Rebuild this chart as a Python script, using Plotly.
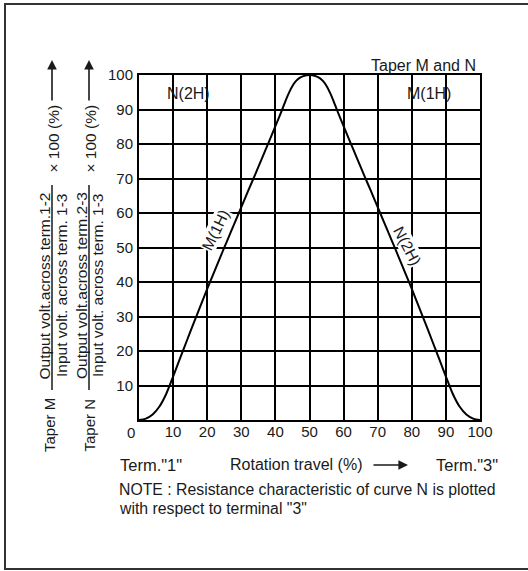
import plotly.graph_objects as go

# ---- data ----
travel_m = [0, 2, 4, 6, 8, 10, 12, 14, 16, 18, 20, 22, 24, 26, 28, 30, 32, 34, 36, 38, 40, 42, 43, 44, 45, 46, 47, 48, 50]
output_m = [0, 0.4, 1.6, 3.9, 7.6, 12.6, 17.8, 22.9, 28, 33, 38, 42.8, 47.6, 52.3, 57, 61.7, 66.4, 71, 75.7,
            80.4, 85.2, 90, 92.6, 94.9, 96.8, 98.2, 99.1, 99.6, 100]
travel_n = [50, 52, 53, 54, 55, 56, 57, 58, 60, 62, 64, 66, 68, 70, 72, 74, 76, 78, 80, 82, 84, 86, 88, 90, 92,
            94, 96, 98, 100]
output_n = [100, 99.6, 99.1, 98.2, 96.8, 94.9, 92.6, 90, 85.2, 80.4, 75.7, 71, 66.4, 61.7, 57, 52.3, 47.6, 42.8,
            38, 33, 28, 22.9, 17.8, 12.6, 7.6, 3.9, 1.6, 0.4, 0]
x_ticks = [10, 20, 30, 40, 50, 60, 70, 80, 90, 100]
y_ticks = [10, 20, 30, 40, 50, 60, 70, 80, 90, 100]

FONT = "Liberation Sans, Arial, sans-serif"
TXT = "#1a1a1a"

W, H = 528, 571
L, R, T, B = 139, 48, 75, 151
PW, PH = W - L - R, H - T - B


def px(xp):
    return (xp - L) / PW


def py(yp):
    return (H - B - yp) / PH


fig = go.Figure()
fig.add_trace(go.Scatter(x=travel_m + travel_n[1:], y=output_m + output_n[1:], mode="lines",
                         line=dict(color="black", width=2, shape="spline", smoothing=0.8),
                         hoverinfo="skip", showlegend=False))

axis_common = dict(range=[0, 100], showgrid=True, gridcolor="black", gridwidth=2,
                   showline=True, linecolor="black", linewidth=2, mirror=True,
                   zeroline=False, ticks="", tickfont=dict(family=FONT, size=15, color=TXT))
fig.update_xaxes(tickvals=x_ticks, ticklabelstandoff=-3, **axis_common)
fig.update_yaxes(tickvals=y_ticks, ticklabelstandoff=1, **axis_common)

ann = []


def text(xp, yp, s, size=15, angle=0, xanchor="center"):
    ann.append(dict(x=px(xp), y=py(yp), xref="paper", yref="paper", text=s, showarrow=False,
                    font=dict(family=FONT, size=size, color=TXT), textangle=angle,
                    xanchor=xanchor, yanchor="middle"))


def arrow(xh, yh, dx, dy):
    ann.append(dict(x=px(xh), y=py(yh), xref="paper", yref="paper", ax=dx, ay=dy,
                    axref="pixel", ayref="pixel", text="", showarrow=True, arrowhead=2,
                    arrowsize=1.2, arrowwidth=1.6, arrowcolor=TXT))


# origin label
ann.append(dict(x=0, y=0, xref="x", yref="y", text="0", showarrow=False, xshift=-8, yshift=-12,
                font=dict(family=FONT, size=15, color=TXT), xanchor="center", yanchor="middle"))

# labels in the plot
ann.append(dict(x=14.4, y=94.6, xref="x", yref="y", text="N(2H)", showarrow=False,
                font=dict(family=FONT, size=16, color=TXT)))
ann.append(dict(x=85, y=94.6, xref="x", yref="y", text="M(1H)", showarrow=False,
                font=dict(family=FONT, size=16, color=TXT)))
ann.append(dict(x=22.3, y=55, xref="x", yref="y", text="M(1H)", showarrow=False, textangle=-64,
                bgcolor="white", borderpad=0, font=dict(family=FONT, size=15.5, color=TXT)))
ann.append(dict(x=78.6, y=50.6, xref="x", yref="y", text="N(2H)", showarrow=False, textangle=62,
                bgcolor="white", borderpad=0, font=dict(family=FONT, size=15.5, color=TXT)))

text(478, 65, "Taper M and N", size=16, xanchor="right")

# bottom texts
text(118, 465, "Term.\"1\"", size=16.5, xanchor="left")
text(228, 465, "Rotation travel (%)", size=16, xanchor="left")
text(500, 465, "Term.\"3\"", size=16.5, xanchor="right")
text(117, 489, "NOTE : Resistance characteristic of curve N is plotted", size=15.8, xanchor="left")
text(117, 508, "with respect to terminal \"3\"", size=15.8, xanchor="left")

# horizontal arrow
arrow(408, 465, -36, 0)

# y-axis label columns
cols = [
    dict(num="Output volt.across term.1-2", den="Input volt. across term. 1-3", taper="Taper M",
         xn=43.5, xb=52, xd=61, xt=49),
    dict(num="Output volt.across term.2-3", den="Input volt. across term. 1-3", taper="Taper N",
         xn=81, xb=89, xd=97, xt=88.5),
]
shapes = []
for c in cols:
    text(c["xn"], 286, c["num"], size=15.5, angle=-90)
    text(c["xd"], 285, c["den"], size=15.5, angle=-90)
    text(c["xt"], 425, c["taper"], size=15, angle=-90)
    text(c["xb"] + 0.5, 139, "× 100 (%)", size=15.5, angle=-90)
    shapes.append(dict(type="line", xref="paper", yref="paper", x0=px(c["xb"]), x1=px(c["xb"]),
                       y0=py(390), y1=py(185), line=dict(color=TXT, width=1.5)))
    arrow(c["xb"], 60, 0, 42)

# outer frame
shapes.append(dict(type="rect", xref="paper", yref="paper", x0=px(5), x1=px(540), y0=py(569), y1=py(4),
                   line=dict(color="#333333", width=2), layer="below"))

fig.update_layout(width=W, height=H, margin=dict(l=L, r=R, t=T, b=B),
                  paper_bgcolor="white", plot_bgcolor="white",
                  annotations=ann, shapes=shapes, showlegend=False)

fig.write_html("out.html", config={"displayModeBar": False})
